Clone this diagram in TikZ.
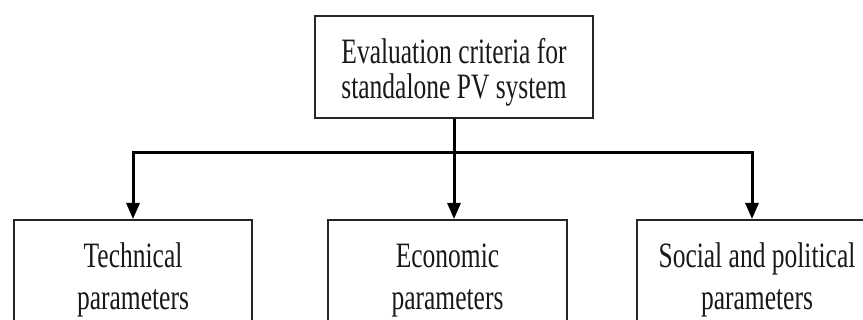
\documentclass[tikz,border=0pt]{standalone}
\usepackage{fontspec}
\setmainfont{Liberation Serif}
\usetikzlibrary{arrows.meta}
\newcommand{\vstr}[2]{\scalebox{1}[1.4]{\fontsize{25.5}{#1}\selectfont\begin{tabular}{@{}c@{}}#2\end{tabular}}}
\begin{document}
\begin{tikzpicture}[x=1pt,y=-1pt,
  box/.style={draw=black!85, line width=1.8pt, minimum width=238pt, minimum height=120pt, inner sep=0pt, anchor=north, align=center, text=black!90},
  topbox/.style={draw=black!85, line width=1.8pt, minimum width=278pt, minimum height=102pt, inner sep=0pt, anchor=north, align=center, text=black!90},
  conn/.style={line width=3pt, -{Triangle[width=13pt,length=16pt]}},
  link/.style={line width=3pt}]
\useasboundingbox (0,0) rectangle (863,320);
\clip (0,0) rectangle (863,320);
\fill[white] (0,0) rectangle (863,320);
\node[topbox] (top) at (454,15) {\raisebox{-7pt}[\height][\depth]{\vstr{25.5}{Evaluation criteria for\\standalone PV system}}};
\node[box] (tech) at (133,219) {\vstr{30}{Technical\\parameters}};
\node[box, minimum width=239pt] (econ) at (447.5,219) {\vstr{30}{Economic\\parameters}};
\node[box, minimum width=240pt] (soc) at (757,219) {\vstr{30}{Social and political\\parameters}};
\coordinate (hl) at (0,153);
\draw[link] (top.south) -- (top.south |- hl);
\draw[conn] (top.south |- hl) -| (tech.north);
\draw[conn] (top.south |- hl) -- (top.south |- econ.north);
\draw[conn] (top.south |- hl) -| ([xshift=-5pt]soc.north);
\end{tikzpicture}
\end{document}
